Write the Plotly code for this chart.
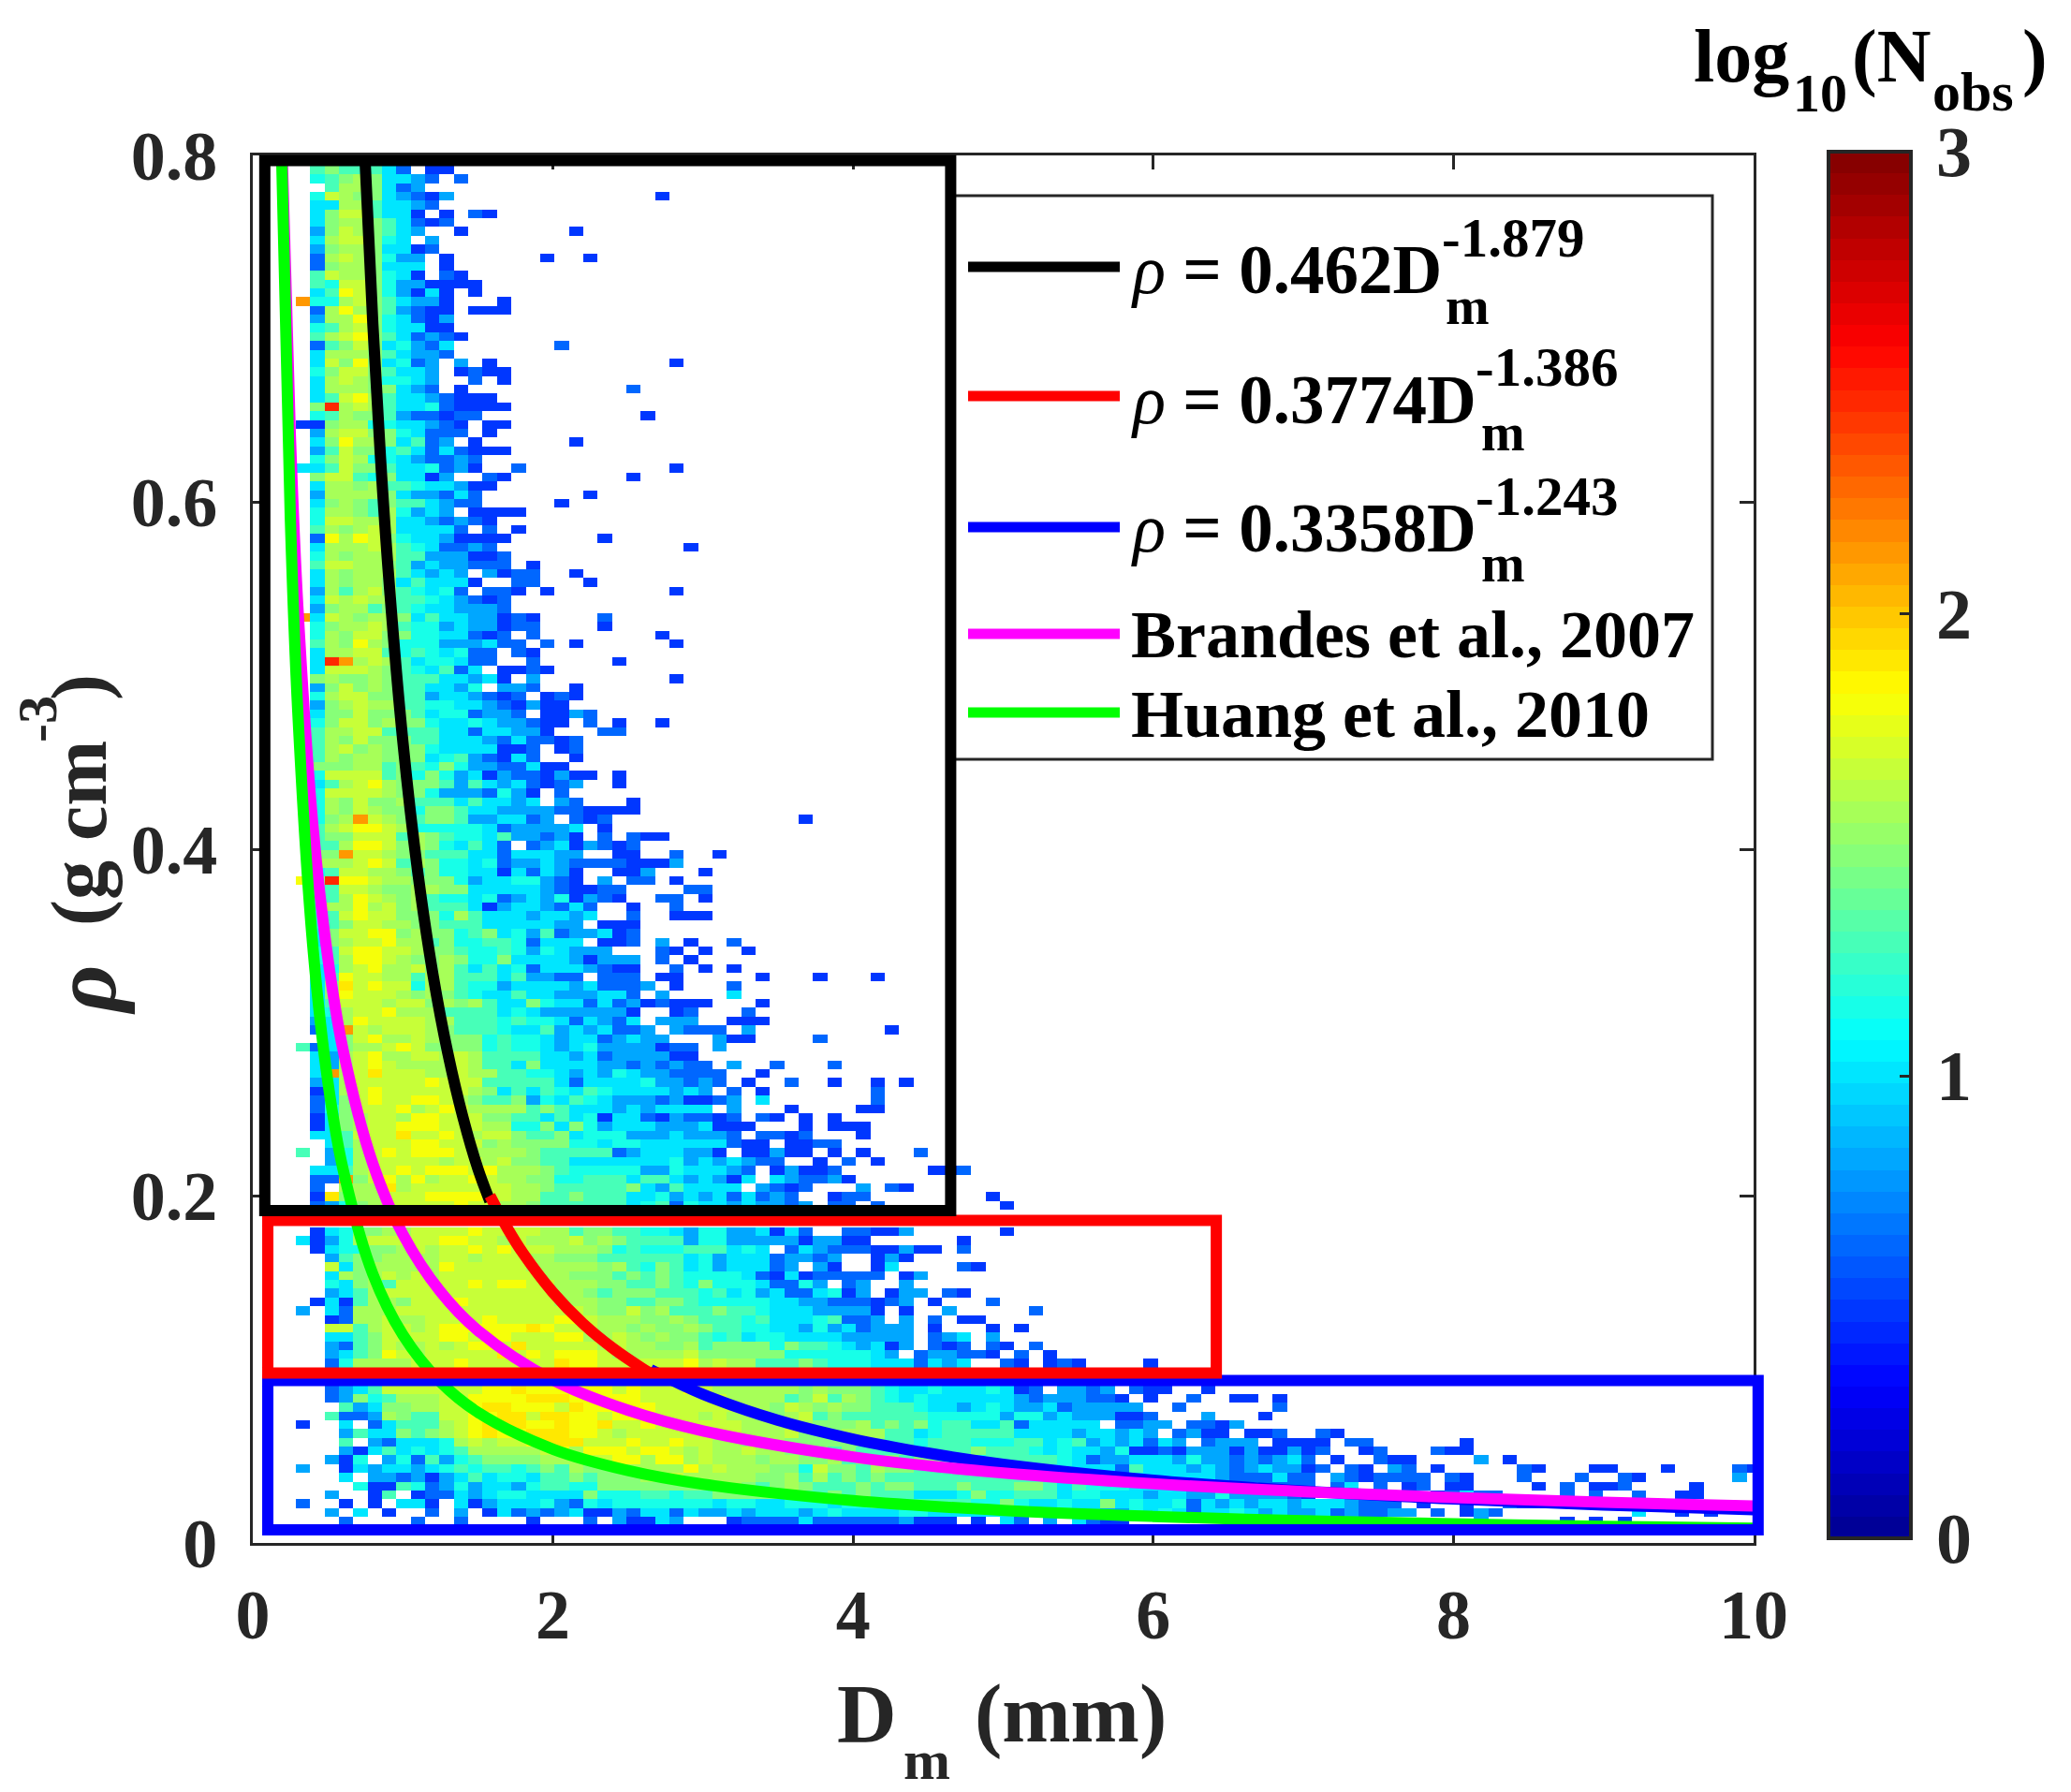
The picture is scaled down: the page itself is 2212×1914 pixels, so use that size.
import plotly.graph_objects as go

# --- values ----------------------------------------------------------------
# histogram cells, one string per rho row (top row first), one character per Dm bin
D_START = 0.335
D_STEP = 0.0957
RHO_START = 0.7967
RHO_STEP = -0.00506

# cell codes -> log10(Nobs)
CODE_VALUES = {"0": 0.47, "1": 0.61, "2": 0.80, "3": 1.02, "4": 1.17, "5": 1.31, "6": 1.455,
               "7": 1.55, "8": 1.67, "9": 1.80, "Y": 1.92, "O": 2.12, "R": 2.44}

HEAT_ROWS = [
    ".45554311.1", ".5655531.00", ".456763321.1", "..5776312", ".4876632102", ".337753321",
    ".36885330.0.10", ".3677653101", ".26876532..0", ".3788643.2", ".267763301", ".17876422.0",
    ".16776333.0", ".58776430.10", ".548864220000", ".3598642030.0", "O4478653220...0",
    ".1797652100.000", ".2779643102", ".4578643300", ".57896531210", ".1568634213", ".3777653221",
    ".386963412.2.0", ".468865332.0100", ".378764432..1.0", ".377766321.0", ".3589753321000",
    ".6R787533410000", ".457665211011", "006774433210.00", ".27886643111.0", ".3697763512.0",
    ".25866453131000", ".468744321121", "3358665334120..1", ".6885463302..10", ".3776755433200",
    ".277776322131", ".367656553211", ".4776574232.0000", ".4887773321210", ".57678733331.1.0",
    ".19798643320000", ".3777875431121", ".47677755222001", ".58877652322111.0",
    ".37677753232.2011", ".376776353330..11", ".275786 54341.110.0", ".38787755432101",
    ".26775654332221", "O3876776353322010", ".4677875442322011", ".47688664433101.1",
    ".576976444222311.1.0", ".3778854543411.10", ".3RO7875344311..1", ".388876543513.0010",
    ".67667655533230.2", ".268676553324.221..0", ".478866552332101.010",
    ".267877554433210200", ".366866653441221.0021", ".468867664334322100.1.0..0",
    ".57788555533133220...11", ".5768666553332131101", ".5786766643333001.01",
    ".5767766634521031..0", ".666775654642211300", ".48888564642302110200.0",
    ".3578976665253231012..0", ".4888876642221420.1", ".4768667555353323.21...0",
    ".47687664665332222110000", ".467O8765665223312.101", ".5789987444443122223.0",
    ".5668885765443522120.1.100", ".55799867643531.12302101", ".66O8876655533133322..00..1",
    ".77789857644341223211110002", ".4588776564433031320..002...0", "96R99877666423344210.2.11.0",
    ".5588766776633333210011....11", ".4579876754434123240210..11.0", ".47797867555302332131..0..1",
    ".45898866647533323323..1..000", ".4568877665553333322.000", ".36889967664563425122301",
    ".3678897756445541333.001.2.0", ".458998876654454243222...10.0", ".45799876676446333320222.1.0",
    ".34789778675353413332100..1.0", ".3598877577555352211.111.00", ".36Y898847754423333231112.0",
    ".36988876765433533222331.2", ".3588878867675336433131201000", ".34788977755553432222220..01",
    ".23798888775554544313213.22", ".13O878887655543352323112.211", "..36897787666454432331232",
    "513677898666645443234222201", ".32789778878755553323122220", ".3278987777875536333322121211",
    ".3O78Y88877877554432324322111", ".2378888898885555531333342212",
    ".0378988888876353543543333232", ".136898899876556243543222120", ".146888978987777565333232333",
    ".036788799888665535340331021", ".036788999888774463642333222", ".335888Y88987886556344422232",
    "..35788899888676666443443333", "5.24789899987777655555123332", "..24788888788786655333333342",
    ".335788989998977765444442243", ".11O689797889877664455535532", ".1.777Y788888887765555563253",
    ".0Y6778889999887755655533423", ".1246788888988776555555345143",
    "", "",
    ".03466778888 9 8888 77 5 66 55 44 3 2 44 22 3 0 3 1 .. 11 00 2",
    "3024 788888 99 88 787778 676 5555 2 44 22222 0 22 00 ...... 0",
    ". 0344 6678 7889 8988 8777 6 454 4 4 5 5 5 3 4 3 . 1 3 2 1 1 1 0 0 2 0 0 . 1",
    ".. 2566 7777 8878 8877 666 555 5 5 5 3 4 2 3 3 3 1 2 2 1 2 .. 0 2 0",
    ".. 8 3 6 7 7 7 7 7 9 8 8 8 8 8 7 7 7 7 7 6 7 5 4 6 5 3 4 2 3 3 3 1 2 . 2 0 . . 0 3 . . . . 1",
    ".. 3 7 6 7 8 7 8 7 8 8 8 8 8 8 8 7 7 6 6 6 5 6 5 6 5 4 4 4 4 3 1 0 3 0 1 1 1 1 1 . 0 2",
    ".. 4 3 6 7 5 8 8 8 8 8 9 8 9 9 8 8 7 7 7 6 6 5 5 6 5 4 6 4 4 4 3 1 1 4 2 . 1 2 . . 2",
    ".. 2 3 5 7 8 8 8 8 8 8 8 8 8 8 8 8 7 7 6 5 6 6 6 5 5 5 4 5 3 4 2 3 1 1 3 4 0 2 . 0 2 2 . 1 0",
    ". 0 3 0 5 7 7 6 8 8 8 9 8 8 8 8 8 8 7 7 7 6 6 5 5 6 6 5 4 4 4 4 4 3 3 2 2 1 1 1 0 1 2 . 0",
    "2 . 3 1 7 7 7 8 8 8 8 8 8 8 8 8 8 8 8 8 7 6 6 8 6 7 5 5 5 6 5 5 4 3 3 3 2 2 2 2 0 . 0 . . 2",
    ".. 0 1 7 7 8 7 7 8 8 8 8 9 8 8 8 8 9 9 8 7 7 7 6 6 7 6 5 5 5 4 5 3 3 3 4 5 1 1 2 . 2 . 1 . 0",
    ".. 8 8 5 7 8 8 7 8 9 9 9 9 9 9 Y 9 8 8 8 7 7 6 7 6 6 7 6 5 5 4 4 3 3 2 4 2 3 1 2 2 2 . 0",
    ".. 3 3 5 6 8 8 8 8 9 9 8 9 9 8 8 8 9 9 7 7 8 7 6 7 6 6 5 4 5 3 4 4 3 3 3 3 2 2 2 2 2 . 1 2 3",
    ".. 2 1 5 6 8 7 7 8 7 8 9 9 8 Y 8 8 8 8 8 7 8 7 7 6 6 7 5 6 6 6 6 4 6 5 5 4 3 2 3 0 2 . 1 0 1",
    ".. 2 3 5 6 9 8 7 8 8 8 8 8 Y 8 9 8 9 9 9 8 7 7 7 7 7 8 6 6 6 6 6 6 4 4 4 4 4 4 3 2 . 1 2 2 1",
    ".. 1 4 7 7 7 7 8 8 8 9 8 8 8 8 8 8 Y 9 9 8 8 8 8 8 8 9 7 8 7 7 5 5 5 6 5 4 4 4 3 3 3 1 3 2 3",
    ".. 3 6 3 7 7 8 8 7 8 8 8 8 8 8 8 8 9 9 9 8 8 8 8 8 8 8 8 7 7 6 6 6 5 5 5 4 4 4 3 3 3 2 2 3 3",
    "",
    ".. 1 2 3 5 8 8 8 8 8 8 8 9 9 Y 9 9 9 9 9 9 8 9 8 8 8 9 8 7 7 7 7 7 7 6 7 6 6 6 5 4 3 3 4 3 3",
    ".. 1 2 6 4 5 7 7 7 8 8 9 9 9 9 Y Y Y 9 9 9 9 9 8 8 8 8 8 8 7 7 7 7 5 6 8 5 7 6 5 4 3 4 3 3 3",
    "... 5 2 3 6 6 7 7 8 8 9 Y Y 9 9 9 8 Y 9 9 9 9 9 8 8 8 8 8 8 7 7 6 8 7 6 7 6 6 5 5 5 4 3 3 2",
    ".. 5 1 1 2 7 6 5 5 8 8 9 9 Y Y 8 Y Y 9 9 8 9 9 8 8 8 8 7 8 7 7 6 6 7 8 5 6 5 5 5 5 5 5 4 4 4",
    "0 . . 3 . 1 3 5 5 5 7 8 9 Y Y Y 9 9 Y 9 9 Y 8 8 9 8 8 8 8 8 8 7 7 7 7 7 6 6 6 7 5 6 5 6 4 5 5",
    "... 2 5 3 3 6 5 6 7 8 9 Y 9 9 Y Y Y 9 9 8 7 8 8 8 8 8 8 8 8 7 7 7 8 6 6 6 7 7 7 5 5 3 4 5 5",
    "... 5 . 2 1 3 3 3 4 7 8 7 8 8 9 Y Y Y 8 8 8 9 8 8 9 8 8 7 7 6 7 7 6 6 6 6 6 6 6 5 5 4 5 5 5",
    "... 2 0 3 5 3 4 3 4 5 7 7 7 7 7 8 9 7 9 9 9 8 9 9 8 7 8 7 7 8 7 7 6 7 6 5 6 5 5 5 6 5 5 5 5",
    ".. 2 0 4 . 2 4 1 5 2 4 5 6 6 6 6 7 7 7 8 8 9 9 7 9 9 7 8 7 7 7 6 7 7 6 6 7 5 6 5 6 5 6 6 5 5",
    "2 . . 0 3 2 3 3 2 3 4 5 4 5 5 4 5 6 5 7 6 6 7 7 7 7 7 9 7 8 7 7 7 6 6 4 8 6 6 5 7 6 6 5 5 5 5",
    "... 3 . 2 2 1 2 0 2 3 5 3 4 4 3 5 5 6 5 6 6 6 7 8 8 7 7 7 7 7 6 6 7 5 7 5 6 5 6 5 5 5 5 5 5",
    "....4 0 0 5 4 1 2 4 2 3 3 2 4 5 5 4 4 6 6 6 6 6 6 6 6 6 7 6 5 6 7 6 5 5 5 6 5 6 6 5 5 5 6",
    ".. 2 . . 0 5 . 0 1 1 3 2 3 4 4 3 3 3 3 6 4 4 4 5 5 4 5 5 6 6 6 6 6 5 5 5 6 5 6 5 5 5 3 3 3 4",
    "1 . . 0 . 0 . 3 3 0 . 3 0 2 3 3 3 4 2 1 4 3 4 4 4 4 4 4 4 3 4 4 3 3 4 4 4 3 4 4 5 5 5 5 5 5 5",
    ".. 2 . 3 . 0 . . 1 . 2 . 0 3 1 2 1 2 3 0 0 2 1 3 3 1 3 2 2 3 2 3 3 3 2 3 4 3 3 3 3 4 4 3 3 3",
    "... 1 .... 1 .. 1 .... 0 ... 1 . 2 0 0 3 2 ... 0 1 1 1 1 3 1 1 1 1 1 1 2 0 0 0",
]

# cells past the end of the row strings: (row, first column, codes)
SIDE_CELLS = [
    (0, 16, "0"), (4, 25, "0"), (8, 19, "0"), (11, 17, "0"), (11, 20, "0"), (21, 18, "1"), (23, 26, "0"),
    (26, 23, "1"), (29, 24, "0"), (32, 19, "0"), (35, 26, "0"), (36, 23, "0"), (38, 20, "0"), (39, 18, "0"),
    (43, 21, "0"), (44, 27, "0"), (47, 19, "0"), (48, 20, "0"), (49, 26, "0"), (52, 21, "1"), (53, 21, "0"),
    (54, 25, "0"), (55, 26, "0"), (57, 22, "0"), (59, 26, "0"), (75, 35, "0"),
    (79, 29, "0"), (89, 30, "1"), (90, 31, "0"), (92, 30, "0"), (93, 32, "0"), (93, 36, "0"), (93, 40, "0"),
    (94, 30, "1"), (95, 30, "3"), (96, 32, "0"), (97, 31, "1"), (98, 27, "2"), (98, 30, "000"),
    (99, 29, "1.2"), (99, 41, "0"), (100, 25, "2"), (100, 29, "200"), (100, 36, "1"), (101, 27, "1.2"),
    (102, 27, "0"), (103, 30, "2"), (103, 33, "1"), (103, 37, "1"),
    (104, 29, "1..0"), (105, 29, "1.0"), (105, 34, "1"), (105, 37, "0"), (105, 40, "0"), (105, 42, "0"),
    (106, 30, "1.0"), (106, 40, "1"), (107, 28, "012.3"), (107, 40, "1"), (108, 28, "3.2"), (108, 34, "0"),
    (108, 39, "00"), (109, 28, "101.10.0.0"), (110, 28, "3000"), (110, 35, "0.000"), (111, 28, "221.1101"),
    (111, 39, "0"), (112, 28, "33100.0011"), (113, 28, "20.00200.0.0"), (113, 43, "1"),
    (114, 28, "323211..0.1.0"), (115, 28, "3321.02001"), (115, 44, "001"), (116, 28, "3203.32112 0"),
    (117, 28, "333.2101...2.10"), (118, 28, "231312 1..011"), (118, 48, "0"),
    (119, 28, "33232212.11.1"), (119, 49, "0"),
    (122, 49, "0"), (126, 47, "0"), (130, 48, "1"), (131, 51, "1"), (132, 47, "0"), (133, 48, "0.0"),
    (134, 48, "2"), (135, 48, "10.1"), (136, 47, "10.1.0"), (137, 49, "10.010"), (137, 59, "0"),
    (138, 47, "321100.1.1"), (138, 59, "0"), (139, 65, "1"),
    (140, 47, "34301.2212.100..0"),
    (141, 47, "33321222110.0..1..00.0"),
    (142, 47, "34322312222 2..1......1"),
    (143, 47, "44244232220 01...2...0"),
    (144, 47, "3351 3333 3.1122.1102"),
    (145, 47, "555333323 323 2.1 200.001..10"),
    (146, 47, "4445 5345 2323 13 2.1222.0000.11......0"),
    (147, 47, "6555 4343 3240 0102 2202 0020 1..01...100"),
    (148, 47, "4555 5543 1223 3324 2212 1231.0..100....2.0"),
    (149, 47, "5544 4443 3315 3332 3212 3220 1.10.21.0.....10...00...0....10"),
    (150, 47, "5555 5554 4333 3333 3211 1311.2101111.10...1...1..10......2"),
    (151, 47, "5556 6535 4443 3333 3322 1111.13.1.01.00....0.1.001....0"),
    (152, 47, "6445 5534 4333 2332 2422 2210..0.0.0.0131 1....1.1..1..00"),
    (153, 47, "4464 3343 3634 3341 3232 3323 3321 11.0..0..100"),
    (154, 47, "3334 3433 3224 3431 3343 2322 3121 122.1.021.........3..0.0"),
    (155, 47, "0.31.2.3100"), (155, 82, "2"), (155, 88, "0.0.0"),
]

TICKS_X = [0, 2, 4, 6, 8, 10]
TICKS_Y = [0, 0.2, 0.4, 0.6, 0.8]
TICK_LABELS_Y = ["0", "0.2", "0.4", "0.6", "0.8"]
TICKS_BAR = [0, 1, 2, 3]

# fitted curves
BLACK_D = [0.7466, 0.8, 0.85, 0.9, 1.0, 1.1, 1.2, 1.3, 1.4, 1.5, 1.58]
BLACK_RHO = [0.8, 0.7027, 0.627, 0.5632, 0.462, 0.3862, 0.328, 0.2822, 0.2455, 0.2157, 0.197]
RED_D = [1.58, 1.7, 1.8, 2.0, 2.2, 2.4, 2.6, 2.65]
RED_RHO = [0.2002, 0.1809, 0.1671, 0.1444, 0.1265, 0.1122, 0.1004, 0.0978]
BLUE_D = [2.65, 3, 3.5, 4, 4.5, 5, 6, 7, 8, 9, 10]
BLUE_RHO = [0.1, 0.0857, 0.0707, 0.0599, 0.0518, 0.0454, 0.0362, 0.0299, 0.0253, 0.0219, 0.0192]
MAGENTA_D = [0.196, 0.25, 0.3, 0.4, 0.5, 0.6, 0.8, 1.0, 1.25, 1.5, 2, 2.5, 3, 4, 5, 6, 7, 8, 9, 10]
MAGENTA_RHO = [0.8, 0.639, 0.54, 0.4143, 0.3373, 0.2849, 0.2186, 0.178, 0.1449, 0.1225, 0.0939, 0.0765,
               0.0646, 0.0496, 0.0403, 0.0341, 0.0296, 0.0262, 0.0235, 0.0213]
GREEN_D = [0.192, 0.25, 0.3, 0.4, 0.5, 0.6, 0.8, 1, 1.25, 1.5, 2, 2.5, 3, 4, 5, 6, 7, 8, 9, 10]
GREEN_RHO = [0.8, 0.591, 0.479, 0.344, 0.266, 0.216, 0.155, 0.12, 0.0928, 0.0753, 0.0541, 0.0418,
             0.0339, 0.0244, 0.0188, 0.0153, 0.0128, 0.011, 0.0096, 0.0085]

# boxes drawn over the histogram: x0, x1, rho0, rho1
BLACK_BOX = [0.08, 4.65, 0.1916, 0.797]
RED_BOX = [0.1, 6.42, 0.098, 0.186]
BLUE_BOX = [0.1, 10.03, 0.0076, 0.0937]

# page geometry, in pixels; the browser puts 8 px of body margin around the plot
PAGE_MARGIN = 8
FIG_W, FIG_H = 2212 - PAGE_MARGIN, 1914 - PAGE_MARGIN
LEFT, RIGHT, TOP, BOTTOM = 270, 1873, 166, 1648
X_MAX, Y_MAX = 10, 0.8
SERIF = "Liberation Serif"
INK = "#262626"
RHO_TEXT = "<span style='font-weight:400;font-style:italic'>ρ</span>"


def to_paper(px, py):
    return (px - LEFT) / (RIGHT - LEFT), (BOTTOM - py) / (BOTTOM - TOP)


def label(text, px, py, size, xanchor="left", angle=0, color="black"):
    x, y = to_paper(px, py)
    return dict(text=text, x=x, y=y, xref="paper", yref="paper", showarrow=False, xanchor=xanchor,
                yanchor="middle", textangle=angle, borderpad=0, borderwidth=0,
                font=dict(family=SERIF, size=size, color=color, weight=700))


def box(bounds, color):
    # paper refs so the outline is not clipped at the axes
    return dict(type="rect", x0=bounds[0] / X_MAX, x1=bounds[1] / X_MAX, y0=bounds[2] / Y_MAX,
                y1=bounds[3] / Y_MAX, xref="paper", yref="paper",
                line=dict(color=color, width=12), fillcolor="rgba(0,0,0,0)", layer="above")


def build_z():
    n_cols = 102
    z = [[None] * n_cols for _ in HEAT_ROWS]
    for r, row in enumerate(HEAT_ROWS):
        for k, code in enumerate(row.replace(" ", "")):
            if code != ".":
                z[r][k] = CODE_VALUES[code]
    for r, start, codes in SIDE_CELLS:
        for k, code in enumerate(codes.replace(" ", ""), start):
            if code != "." and k < n_cols:
                z[r][k] = CODE_VALUES[code]
    return z


# MATLAB style jet with visible steps
JET_STOPS = [(0.0, (0, 0, 143)), (0.11, (0, 0, 255)), (0.36, (0, 255, 255)), (0.61, (255, 255, 0)),
             (0.86, (255, 0, 0)), (1.0, (128, 0, 0))]


def jet_color(t):
    for (t0, c0), (t1, c1) in zip(JET_STOPS, JET_STOPS[1:]):
        if t <= t1:
            f = (t - t0) / (t1 - t0)
            return "rgb(%d,%d,%d)" % tuple(round(a + (b - a) * f) for a, b in zip(c0, c1))
    return "rgb(128,0,0)"


jet64 = []
for i in range(64):
    col = jet_color((i + 0.5) / 64)
    jet64 += [[i / 64, col], [(i + 1) / 64, col]]

BAR_TOP, BAR_BOTTOM = 162, 1643

fig = go.Figure()
fig.add_trace(go.Heatmap(
    z=build_z(), x0=D_START, dx=D_STEP, y0=RHO_START, dy=RHO_STEP, zmin=0, zmax=3,
    colorscale=jet64, hoverongaps=False,
    colorbar=dict(
        x=(1953 - LEFT) / (RIGHT - LEFT), xanchor="left", xpad=0, ypad=0,
        y=(BOTTOM - BAR_BOTTOM) / (BOTTOM - TOP), yanchor="bottom",
        lenmode="pixels", len=BAR_BOTTOM - BAR_TOP, thicknessmode="pixels", thickness=88,
        outlinecolor=INK, outlinewidth=4, tickvals=TICKS_BAR, ticks="inside", ticklen=14,
        tickcolor=INK, tickwidth=3, showticklabels=False,
    ),
))

for xs, ys, color in [(BLACK_D, BLACK_RHO, "#000000"), (RED_D, RED_RHO, "#ff0000"),
                      (BLUE_D, BLUE_RHO, "#0000ff"), (MAGENTA_D, MAGENTA_RHO, "#ff00ff"),
                      (GREEN_D, GREEN_RHO, "#00ff00")]:
    fig.add_trace(go.Scatter(x=xs, y=ys, mode="lines", line=dict(color=color, width=12, shape="spline"),
                             showlegend=False))

lx0, ly1 = to_paper(1018, 209)
lx1, ly0 = to_paper(1829, 811)
shapes = [dict(type="rect", xref="paper", yref="paper", x0=lx0, x1=lx1, y0=ly0, y1=ly1,
               fillcolor="white", line=dict(color=INK, width=3), layer="above")]
for key_y, color in [(285, "#000000"), (423, "#ff0000"), (563, "#0000ff"), (677, "#ff00ff"), (761, "#00ff00")]:
    x0, y0 = to_paper(1034, key_y)
    x1, _ = to_paper(1196, key_y)
    shapes.append(dict(type="line", xref="paper", yref="paper", x0=x0, x1=x1, y0=y0, y1=y0,
                       line=dict(color=color, width=11), layer="above"))
shapes += [box(BLUE_BOX, "#0000ff"), box(RED_BOX, "#ff0000"), box(BLACK_BOX, "#000000")]

annotations = [
    # legend
    label(RHO_TEXT + " = 0.462D", 1208, 289, 73),
    label("-1.879", 1540, 254, 59),
    label("m", 1544, 327, 56),
    label(RHO_TEXT + " = 0.3774D", 1208, 427, 73),
    label("-1.386", 1576, 392, 59),
    label("m", 1582, 462, 56),
    label(RHO_TEXT + " = 0.3358D", 1208, 564, 73),
    label("-1.243", 1576, 530, 59),
    label("m", 1582, 602, 56),
    label("Brandes et al., 2007", 1208, 678, 72),
    label("Huang et al., 2010", 1208, 763, 72),
    # x title
    label("D", 926, 1830, 88, "center", color=INK),
    label("m", 990, 1880, 60, "center", color=INK),
    label("(mm)", 1143, 1830, 88, "center", color=INK),
    # y title
    label("<i>ρ</i>", 90, 1058, 98, "center", -90, INK),
    label("(g cm", 85, 890, 84, "center", -90, INK),
    label("-3", 40, 768, 60, "center", -90, INK),
    label(")", 85, 734, 84, "center", -90, INK),
    # colour bar title
    label("log", 1809, 60, 80),
    label("10", 1915, 100, 58),
    label("(N", 1978, 60, 80),
    label("obs", 2064, 98, 60),
    label(")", 2160, 60, 80),
]
# colour bar tick labels sit further out than the colorbar's own labels can
for tick in TICKS_BAR:
    bar_y = BAR_BOTTOM - tick / TICKS_BAR[-1] * (BAR_BOTTOM - BAR_TOP)
    annotations.append(label(str(tick), 2087, bar_y, 76, "center", color=INK))

axis_style = dict(showline=True, linecolor=INK, linewidth=3, mirror="allticks", ticks="inside", ticklen=15,
                  tickwidth=3, tickcolor=INK, showgrid=False, zeroline=False,
                  tickfont=dict(family=SERIF, size=74, color=INK, weight=700))

fig.update_layout(
    width=FIG_W, height=FIG_H, autosize=False,
    margin=dict(l=LEFT - PAGE_MARGIN, r=FIG_W - (RIGHT - PAGE_MARGIN), t=TOP - PAGE_MARGIN,
                b=FIG_H - (BOTTOM - PAGE_MARGIN)),
    paper_bgcolor="white", plot_bgcolor="white", showlegend=False,
    shapes=shapes, annotations=annotations,
    xaxis=dict(range=[0, X_MAX], tickvals=TICKS_X, ticklabelstandoff=10, **axis_style),
    yaxis=dict(range=[0, Y_MAX], tickvals=TICKS_Y, ticktext=TICK_LABELS_Y, ticklabelstandoff=20, **axis_style),
)

fig.write_html("out.html")
